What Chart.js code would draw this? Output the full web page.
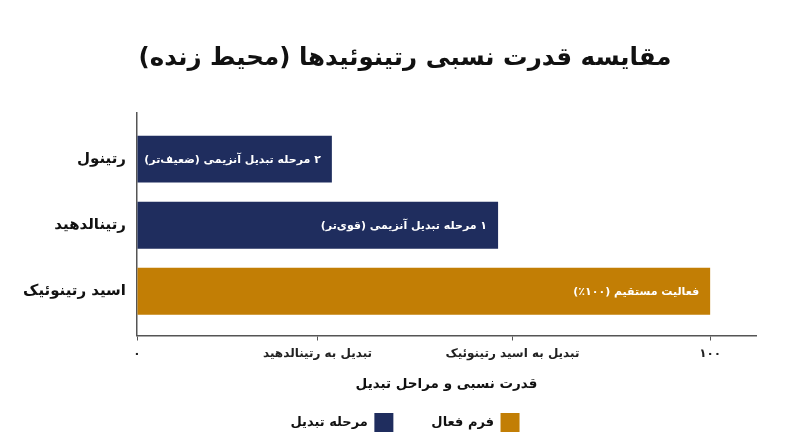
<!DOCTYPE html>
<html lang="fa">
<head>
<meta charset="utf-8">
<script src="https://cdn.jsdelivr.net/npm/chart.js@4.4.1/dist/chart.umd.min.js"></script>
<style>
  html, body { margin: 0; padding: 0; background: #fff; }
  #wrap { width: 800px; height: 447px; }
</style>
</head>
<body>
<div id="wrap"><canvas id="grafico" dir="rtl"></canvas></div>
<script>
const categories = ['رتینول', 'رتینالدهید', 'اسید رتینوئیک'];
const stepValues = [34, 63, null];      // مرحله تبدیل
const activeValues = [null, null, 100]; // فرم فعال
const barTexts = ['۲ مرحله تبدیل آنزیمی (ضعیف‌تر)', '۱ مرحله تبدیل آنزیمی (قوی‌تر)', 'فعالیت مستقیم (۱۰۰٪)'];
const xTickValues = [0, 31.5, 65.5, 100];
const xTickLabels = ['۰', 'تبدیل به رتینالدهید', 'تبدیل به اسید رتینوئیک', '۱۰۰'];

const navy = '#1f2d5e';
const gold = '#c27e05';
const ink = '#111111';
const axisGray = '#555555';

Chart.defaults.font.family = '"DejaVu Sans", sans-serif';
Chart.defaults.color = ink;

function toPoints(values) {
  const pts = [];
  values.forEach(function(v, i) {
    if (v !== null) pts.push({ x: v, y: i, label: barTexts[i] });
  });
  return pts;
}

// texts inside the bars, right aligned near the bar end
const barLabels = {
  id: 'barLabels',
  afterDatasetsDraw: function(chart) {
    const ctx = chart.ctx;
    ctx.save();
    ctx.font = 'bold 11px "DejaVu Sans", sans-serif';
    ctx.fillStyle = '#ffffff';
    ctx.textAlign = 'right';
    ctx.textBaseline = 'middle';
    chart.data.datasets.forEach(function(ds, d) {
      chart.getDatasetMeta(d).data.forEach(function(el, j) {
        ctx.fillText(ds.data[j].label, el.x - 11, el.y + 1);
      });
    });
    ctx.restore();
  }
};

const ctx = document.getElementById('grafico').getContext('2d');
new Chart(ctx, {
  type: 'bar',
  data: {
    datasets: [
      { label: 'فرم فعال', data: toPoints(activeValues), backgroundColor: gold },
      { label: 'مرحله تبدیل', data: toPoints(stepValues), backgroundColor: navy }
    ]
  },
  plugins: [barLabels],
  options: {
    indexAxis: 'y',
    responsive: true,
    maintainAspectRatio: false,
    animation: false,
    grouped: false,
    barPercentage: 0.71,
    categoryPercentage: 1,
    layout: { padding: { left: 10, right: 0, top: 0, bottom: 5 } },
    plugins: {
      tooltip: { enabled: false },
      title: {
        display: true,
        text: 'مقایسه قدرت نسبی رتینوئیدها (محیط زنده)',
        color: ink,
        font: { size: 24.5, weight: 'bold' },
        padding: { top: 44, bottom: 39.5 }
      },
      legend: {
        position: 'bottom',
        rtl: true,
        labels: {
          boxWidth: 19,
          boxHeight: 19,
          padding: 12,
          color: ink,
          font: { size: 13, weight: 'bold' },
          generateLabels: function(chart) {
            const items = Chart.defaults.plugins.legend.labels.generateLabels(chart);
            items.forEach(function(it, i) {
              if (i < items.length - 1) it.text = it.text + '\u2003\u2003';
            });
            return items;
          }
        }
      }
    },
    scales: {
      x: {
        type: 'linear',
        min: 0,
        max: 108,
        afterBuildTicks: function(scale) {
          scale.ticks = xTickValues.map(function(v) { return { value: v }; });
        },
        ticks: {
          autoSkip: false,
          maxRotation: 0,
          padding: 6,
          color: '#222',
          font: { size: 12, weight: 'bold' },
          callback: function(v, i) { return xTickLabels[i]; }
        },
        grid: { drawOnChartArea: false, drawTicks: true, tickLength: 5, color: axisGray },
        border: { display: true, color: axisGray, width: 1.5 },
        title: {
          display: true,
          text: 'قدرت نسبی و مراحل تبدیل',
          color: ink,
          font: { size: 13.5, weight: 'bold' },
          padding: { top: 9.5, bottom: 8.4 }
        }
      },
      y: {
        type: 'linear',
        reverse: true,
        offset: false,
        min: -0.7,
        max: 2.67,
        afterBuildTicks: function(scale) {
          scale.ticks = categories.map(function(c, i) { return { value: i }; });
        },
        afterFit: function(scale) { scale.width = 127; },
        ticks: {
          padding: 11,
          color: ink,
          font: { size: 15, weight: 'bold' },
          callback: function(v) { return categories[v]; }
        },
        grid: { display: false, drawTicks: false },
        border: { display: true, color: axisGray, width: 1.5 }
      },
      // empty right-hand margin
      yRight: {
        type: 'linear',
        position: 'right',
        afterFit: function(scale) { scale.width = 44; },
        ticks: { display: false },
        grid: { display: false, drawTicks: false },
        border: { display: false }
      }
    }
  }
});
</script>
</body>
</html>
